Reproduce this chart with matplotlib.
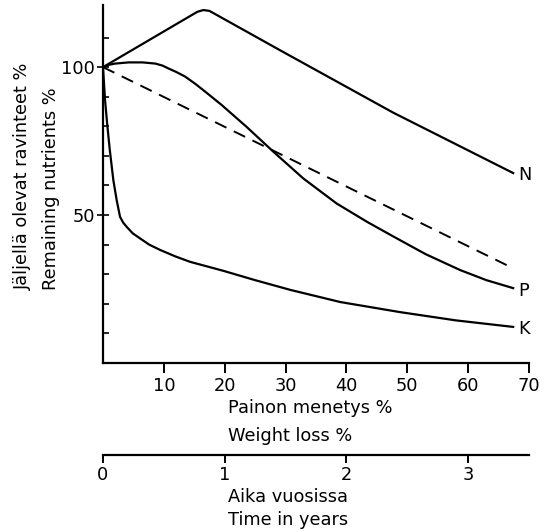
import matplotlib
matplotlib.use("Agg")
import matplotlib.pyplot as plt
from matplotlib.ticker import FixedLocator

# ---- data ----
n_x = [0, 15.5, 16.5, 17.5, 29.1, 47.7, 67.4]
n_y = [100, 118.7, 119.3, 119.0, 105.7, 84.6, 64.2]

p_x = [0, 0.3, 1.0, 2.0, 4.2, 6.5, 8.6, 9.8, 10.7, 12.0, 13.5, 15.2, 16.8, 19.5, 23.6, 28.0, 32.9, 38.4, 43.4, 47.5, 53, 58.7, 63, 67.4]
p_y = [100, 100.2, 100.8, 101.2, 101.6, 101.6, 101.2, 100.5, 99.6, 98.4, 96.8, 94.3, 91.7, 87.2, 79.8, 71.4, 62.4, 53.9, 47.7, 43.0, 36.8, 31.4, 28.0, 25.3]

k_x = [0, 0.33, 0.7, 1.1, 1.7, 2.25, 2.8, 3.3, 3.9, 4.9, 6.1, 7.6, 9.4, 11.8, 14.3, 19.7, 25, 30.8, 39, 48.8, 58, 67.4]
k_y = [100, 89, 80.5, 72.3, 61.8, 55.0, 49.4, 47.5, 46.0, 43.8, 42.1, 40.0, 38.2, 36.1, 34.2, 31.2, 28.0, 24.7, 20.6, 17.2, 14.4, 12.2]

ref_x = [0, 67.4]
ref_y = [100, 32]

series_labels = ["N", "P", "K"]
x_ticks = [10, 20, 30, 40, 50, 60, 70]
y_major = [50, 100]
y_minor = [10, 20, 30, 40, 60, 70, 80, 90, 110]
year_ticks = [0, 1, 2, 3]

W, H = 551, 532
fig = plt.figure(figsize=(W / 100, H / 100), dpi=100)
plt.rcParams['font.family'] = ['DejaVu Sans']
FS = 12.8

def fx(px):
    return px / W

def fy(py):
    return 1 - py / H

ax = fig.add_axes([fx(103), fy(363), fx(529) - fx(103), fy(5) - fy(363)])
ax.set_xlim(0, 70)
ax.set_ylim(0, 121)

lw = 1.6
ax.plot(n_x, n_y, color='black', lw=lw, solid_joinstyle='round')
ax.plot(p_x, p_y, color='black', lw=lw, solid_joinstyle='round')
ax.plot(k_x, k_y, color='black', lw=lw, solid_joinstyle='round')
ax.plot(ref_x, ref_y, color='black', lw=1.4, dashes=(6.5, 4.2))

label_y = [n_y[-1], p_y[-1], k_y[-1]]
for lab, yy in zip(series_labels, label_y):
    ax.text(68.3, yy - 0.8, lab, ha='left', va='center', fontsize=FS)

for s in ['top', 'right']:
    ax.spines[s].set_visible(False)
for s in ['left', 'bottom']:
    ax.spines[s].set_linewidth(1.6)

ax.set_xticks(x_ticks)
ax.set_xticklabels([str(t) for t in x_ticks], fontsize=FS)
ax.tick_params(axis='x', direction='out', length=7, width=1.4, pad=3)

ax.yaxis.set_major_locator(FixedLocator(y_major))
ax.yaxis.set_minor_locator(FixedLocator(y_minor))
ax.set_yticklabels([str(t) for t in y_major], fontsize=FS)
ax.tick_params(axis='y', which='major', direction='inout', length=9, width=1.2, pad=1)
ax.tick_params(axis='y', which='minor', direction='in', length=4, width=1.2)

sec = ax.secondary_xaxis(-(455 - 363) / (363 - 5),
                         functions=(lambda x: x / 20.0, lambda x: x * 20.0))
sec.set_xticks(year_ticks)
sec.set_xticklabels([str(t) for t in year_ticks], fontsize=FS)
sec.tick_params(axis='x', direction='out', length=6, width=1.4, pad=2)
sec.spines['bottom'].set_linewidth(1.6)

fig.text(fx(228), fy(408), "Painon menetys %", ha='left', va='center', fontsize=FS)
fig.text(fx(228), fy(436), "Weight loss %", ha='left', va='center', fontsize=FS)
fig.text(fx(228), fy(497), "Aika vuosissa", ha='left', va='center', fontsize=FS)
fig.text(fx(228), fy(520), "Time in years", ha='left', va='center', fontsize=FS)

fig.text(fx(23), fy(290), "Jäljellä olevat ravinteet %", rotation=90, ha='center', va='bottom', fontsize=FS)
fig.text(fx(51), fy(290), "Remaining nutrients %", rotation=90, ha='center', va='bottom', fontsize=FS)

fig.savefig("out.png", dpi=100)
